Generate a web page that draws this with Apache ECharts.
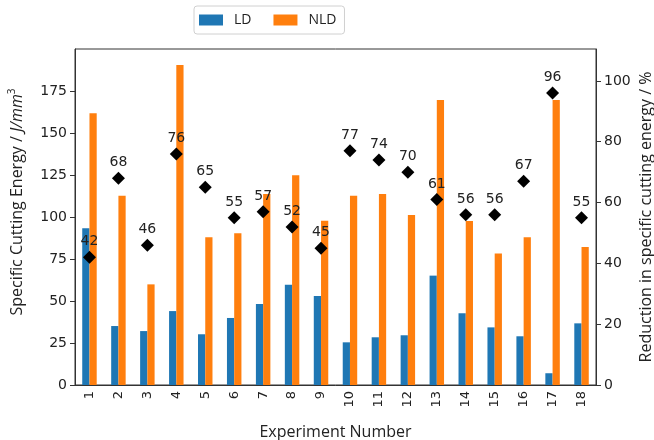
<!DOCTYPE html>
<html>
<head>
<meta charset="utf-8">
<script src="https://cdn.jsdelivr.net/npm/echarts@6/dist/echarts.min.js"></script>
<style>html,body{margin:0;padding:0;background:#fff;}#c{width:654px;height:440px;}</style>
</head>
<body>
<div id="c"></div>
<script>
const categories = ['1','2','3','4','5','6','7','8','9','10','11','12','13','14','15','16','17','18'];
const ldValues = [93.3, 35.1, 32.1, 44.0, 30.2, 39.9, 48.2, 59.7, 53.0, 25.4, 28.4, 29.6, 65.1, 42.7, 34.3, 29.0, 7.0, 36.7];
const nldValues = [161.7, 112.7, 59.9, 190.5, 87.9, 90.3, 113.7, 124.8, 97.8, 112.7, 113.7, 101.2, 169.6, 97.6, 78.2, 87.9, 169.6, 82.1];
const reductionValues = [42, 68, 46, 76, 65, 55, 57, 52, 45, 77, 74, 70, 61, 56, 56, 67, 96, 55];
const leftTicks = [0, 25, 50, 75, 100, 125, 150, 175];
const rightTicks = [0, 20, 40, 60, 80, 100];

const font = 'DejaVu Sans';
const titleFont = 'Open Sans';
const chart = echarts.init(document.getElementById('c'), null, {renderer: 'canvas'});
chart.setOption({
  animation: false,
  textStyle: {fontFamily: font},
  legend: {
    data: ['LD', 'NLD'],
    left: 194, top: 6,
    padding: [7, 8, 7, 5],
    itemWidth: 24, itemHeight: 11, itemGap: 22,
    borderColor: '#d0d0d0', borderWidth: 1, borderRadius: 3,
    textStyle: {fontFamily: titleFont, fontSize: 14, color: '#222', padding: [0, 0, 0, 6]},
    icon: 'rect'
  },
  grid: {left: 75, right: 58, top: 49, bottom: 55, show: true, borderColor: '#333', borderWidth: 1,
         backgroundColor: 'transparent', containLabel: false, outerBoundsMode: 'none'},
  xAxis: {
    type: 'category', data: categories,
    name: 'Experiment Number', nameLocation: 'middle', nameGap: 39,
    nameTextStyle: {fontFamily: titleFont, fontSize: 16, color: '#222'},
    axisLine: {lineStyle: {color: '#333'}},
    axisTick: {alignWithLabel: true, length: 4, lineStyle: {color: '#333'}},
    axisLabel: {rotate: 90, fontSize: 13, color: '#222', margin: 6, fontFamily: font}
  },
  yAxis: [
    {
      type: 'value', min: 0, max: 200,
      name: 'Specific Cutting Energy / {it|J/mm}{sup|3}', nameLocation: 'middle', nameGap: 48, nameRotate: 90,
      nameTextStyle: {fontFamily: titleFont, fontSize: 16, color: '#222', padding: [0, 0, 0, 30],
        rich: {it: {fontFamily: titleFont, fontStyle: 'italic', fontSize: 16, color: '#222'},
               sup: {fontFamily: titleFont, fontSize: 10, color: '#222', padding: [0, 0, 10, 0]}}},
      splitLine: {show: false},
      axisLine: {show: true, lineStyle: {color: '#333'}},
      axisTick: {show: true, length: 5, lineStyle: {color: '#333'}, customValues: leftTicks},
      axisLabel: {fontSize: 14, color: '#222', margin: 8, customValues: leftTicks, fontFamily: font}
    },
    {
      type: 'value', min: 0, max: 110.5, position: 'right',
      name: 'Reduction in specific cutting energy / %', nameLocation: 'middle', nameGap: 42, nameRotate: 90,
      nameMoveOverlap: false,
      nameTextStyle: {fontFamily: titleFont, fontSize: 16, color: '#222'},
      splitLine: {show: false},
      axisLine: {show: true, lineStyle: {color: '#333'}},
      axisTick: {show: true, length: 5, lineStyle: {color: '#333'}, customValues: rightTicks},
      axisLabel: {fontSize: 14, color: '#222', margin: 8, customValues: rightTicks, fontFamily: font}
    }
  ],
  series: [
    {name: 'LD', type: 'bar', data: ldValues, itemStyle: {color: '#1f77b4'}, barWidth: '25%', barGap: '0%', barCategoryGap: '50%'},
    {name: 'NLD', type: 'bar', data: nldValues, itemStyle: {color: '#ff7f0e'}, barWidth: '25%', barGap: '0%'},
    {name: 'Reduction', type: 'scatter', yAxisIndex: 1, data: reductionValues, symbol: 'diamond', symbolSize: 13,
     itemStyle: {color: '#000', opacity: 1}, z: 5,
     label: {show: true, position: 'top', distance: 2, fontSize: 14, color: '#222', fontFamily: font}}
  ]
});
</script>
</body>
</html>
